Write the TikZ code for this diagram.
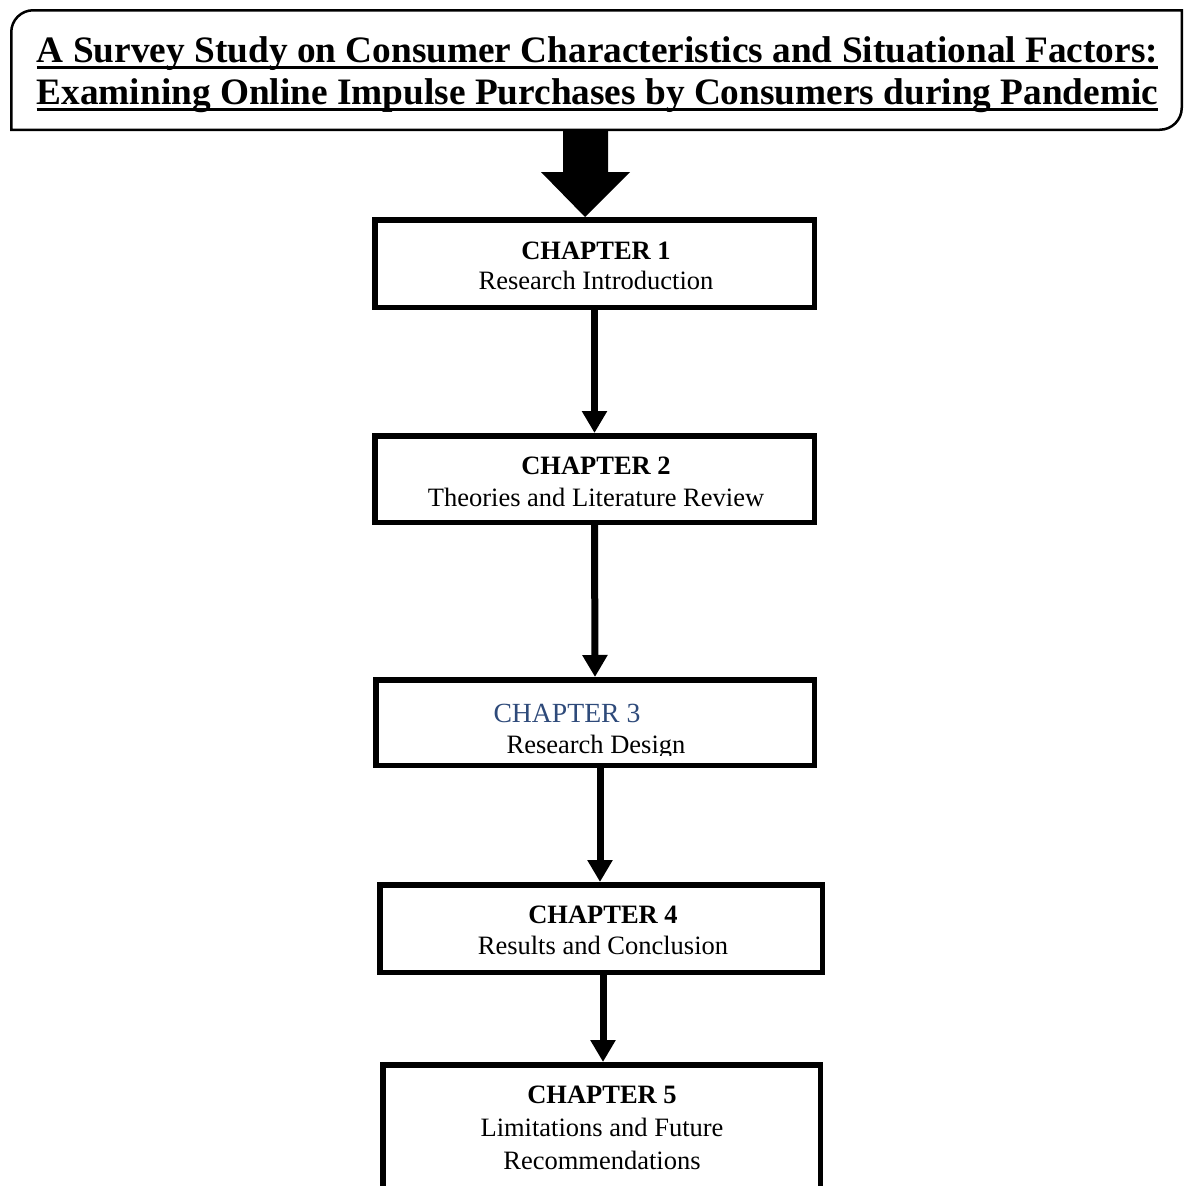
\documentclass[tikz,border=0pt]{standalone}
\usepackage{fontspec}
\setmainfont{Liberation Serif}
\usetikzlibrary{arrows.meta,calc}
\definecolor{hblue}{RGB}{46,74,122}
\newsavebox\ulsave
\newcommand\ulline[1]{\sbox\ulsave{#1}\rlap{\rule[-7pt]{\wd\ulsave}{3.5pt}}\usebox\ulsave}
\begin{document}
\begin{tikzpicture}[x=1pt,y=-1pt,
  chbox/.style={draw,line width=5.5pt,rectangle,inner sep=0pt},
  ttl/.style={anchor=base,inner sep=0pt,font=\fontsize{37.3pt}{42pt}\selectfont\bfseries},
  txt/.style={anchor=base,inner sep=0pt,font=\fontsize{26.5pt}{31pt}\selectfont},
  conn/.style={line width=7pt,-{Triangle[width=24pt,length=22pt]}}]
\clip (0,0) rectangle (1185,1186);
\fill[white] (0,0) rectangle (1185,1186);
% title frame
\node[minimum width=1170.5pt,minimum height=119.5pt,inner sep=0pt,outer sep=0pt] (title) at (596.5,70) {};
\draw[line width=2.5pt] (11.25,129.75) -- (11.25,32.25) .. controls (11.25,20.1) and (21.1,10.25) .. (33.25,10.25)
  -- (1181.75,10.25) -- (1181.75,107.75) .. controls (1181.75,119.9) and (1171.9,129.75) .. (1159.75,129.75) -- cycle;
\node[ttl] (t1) at (597.5,62) {\ulline{A Survey Study on Consumer Characteristics and Situational Factors:}};
\node[ttl] (t2) at (597.5,104) {\ulline{Examining Online Impulse Purchases by Consumers during Pandemic}};
% chapter boxes
\node[chbox,minimum width=439.5pt,minimum height=87.5pt] (ch1) at (594.5,263.5) {};
\node[chbox,minimum width=439.5pt,minimum height=86.5pt] (ch2) at (594.5,479) {};
\node[chbox,minimum width=438.5pt,minimum height=85.5pt] (ch3) at (595,722.5) {};
\node[chbox,minimum width=442.5pt,minimum height=87.5pt] (ch4) at (601,928.5) {};
\node[chbox,minimum width=437.5pt,minimum height=172.5pt] (ch5) at (601.5,1151) {};
% texts
\node[txt] (c1a) at (596,259) {\bfseries CHAPTER 1};
\node[txt] (c1b) at (596,289) {Research Introduction};
\node[txt] (c2a) at (596,474) {\bfseries CHAPTER 2};
\node[txt] (c2b) at (596,506) {Theories and Literature Review};
\begin{scope}
\clip (373,677) rectangle (817,755);
\node[txt,font=\fontsize{27.7pt}{31pt}\selectfont,text=hblue] (c3a) at (567,722) {CHAPTER 3};
\node[txt] (c3b) at (596,753) {Research Design};
\end{scope}
\node[txt] (c4a) at (603,923) {\bfseries CHAPTER 4};
\node[txt] (c4b) at (603,954) {Results and Conclusion};
\node[txt] (c5a) at (602,1103) {\bfseries CHAPTER 5};
\node[txt] (c5b) at (602,1136) {Limitations and Future};
\node[txt] (c5c) at (602,1169) {Recommendations};
% fat arrow from title to chapter 1
\coordinate (tip) at ($(ch1.north)+(-9.5,0)$);
\fill (tip) -- ++(-44,-45) -- ++(22,0) -- ++(0,-42) -- ++(45,0) -- ++(0,42) -- ++(22,0) -- cycle;
% connectors
\draw[conn] (ch1.south) -- (ch2.north);
\draw[conn] (ch2.south) -- (ch3.north);
\coordinate (a3) at ([xshift=5pt]ch3.south);
\draw[conn] (a3) -- (a3 |- ch4.north);
\coordinate (a4) at ([xshift=2pt]ch4.south);
\draw[conn] (a4) -- (a4 |- ch5.north);
\end{tikzpicture}
\end{document}
